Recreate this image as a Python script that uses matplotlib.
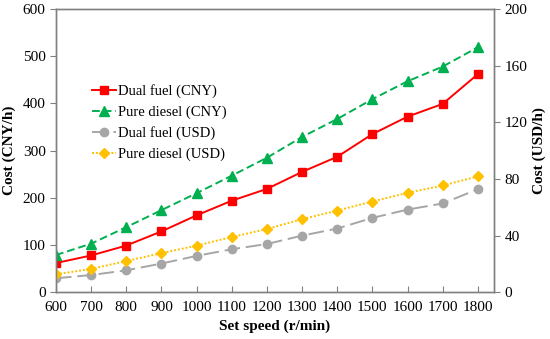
import matplotlib
matplotlib.use("Agg")
import matplotlib.pyplot as plt

speed = [600, 700, 800, 900, 1000, 1100, 1200, 1300, 1400, 1500, 1600, 1700, 1800]
dual_cny = [62, 78, 99, 129, 163, 194, 219, 255, 287, 335, 372, 399, 462]
diesel_cny = [79, 103, 138, 174, 210, 247, 285, 329, 367, 409, 447, 478, 519]
dual_usd = [9.9, 12.2, 15.5, 20.3, 25.7, 30.4, 34.1, 40.0, 45.0, 52.5, 58.4, 62.7, 72.8]
diesel_usd = [12.7, 16.5, 22.1, 27.6, 33.0, 39.0, 44.7, 51.6, 57.7, 64.1, 70.2, 75.4, 81.8]

plt.rcParams['font.family'] = ['Liberation Serif', 'DejaVu Serif']

fig = plt.figure(figsize=(5.5, 3.39), dpi=100)
ax = fig.add_axes([56/550, 1-292.3/339, (494-56)/550, (292.3-9)/339])
ax2 = ax.twinx()

l1, = ax.plot(speed, dual_cny, color='#ff0000', lw=1.4, marker='s', ms=6, label='Dual fuel (CNY)')
l2, = ax.plot(speed, diesel_cny, color='#00b050', lw=1.4, ls=(0, (4, 2)), marker='^', ms=7, label='Pure diesel (CNY)')
l3, = ax2.plot(speed, dual_usd, color='#a6a6a6', lw=1.4, ls=(0, (8, 3)), marker='o', ms=6, label='Dual fuel (USD)')
l4, = ax2.plot(speed, diesel_usd, color='#ffc000', lw=1.4, ls=(0, (1, 1)), marker='D', ms=5, label='Pure diesel (USD)')

ax.set_xlim(600, 1846)
ax.set_ylim(0, 600)
ax2.set_ylim(0, 200)
ax.set_xticks(speed)
ax.set_yticks(range(0, 601, 100))
ax2.set_yticks(range(0, 201, 40))

for a in (ax, ax2):
    for s in a.spines.values():
        s.set_color('#808080')
        s.set_linewidth(1.0)
ax.tick_params(axis='x', direction='in', length=4, color='#808080', labelsize=11, pad=6)
ax.tick_params(axis='y', direction='out', length=4, color='#808080', labelsize=11)
ax2.tick_params(axis='y', direction='out', length=4, color='#808080', labelsize=11)

ax.set_xlabel('Set speed (r/min)', fontsize=11, fontweight='bold', labelpad=4)
ax.set_ylabel('Cost (CNY/h)', fontsize=11, fontweight='bold', labelpad=5)
ax2.set_ylabel('Cost (USD/h)', fontsize=11, fontweight='bold', labelpad=4)

ax.legend(handles=[l1, l2, l3, l4], loc='upper left', bbox_to_anchor=(0.07, 0.754),
          frameon=False, fontsize=10.5, handlelength=1.6, handletextpad=0.15,
          labelspacing=0.5, borderaxespad=0)

fig.savefig('out.png', dpi=100)
